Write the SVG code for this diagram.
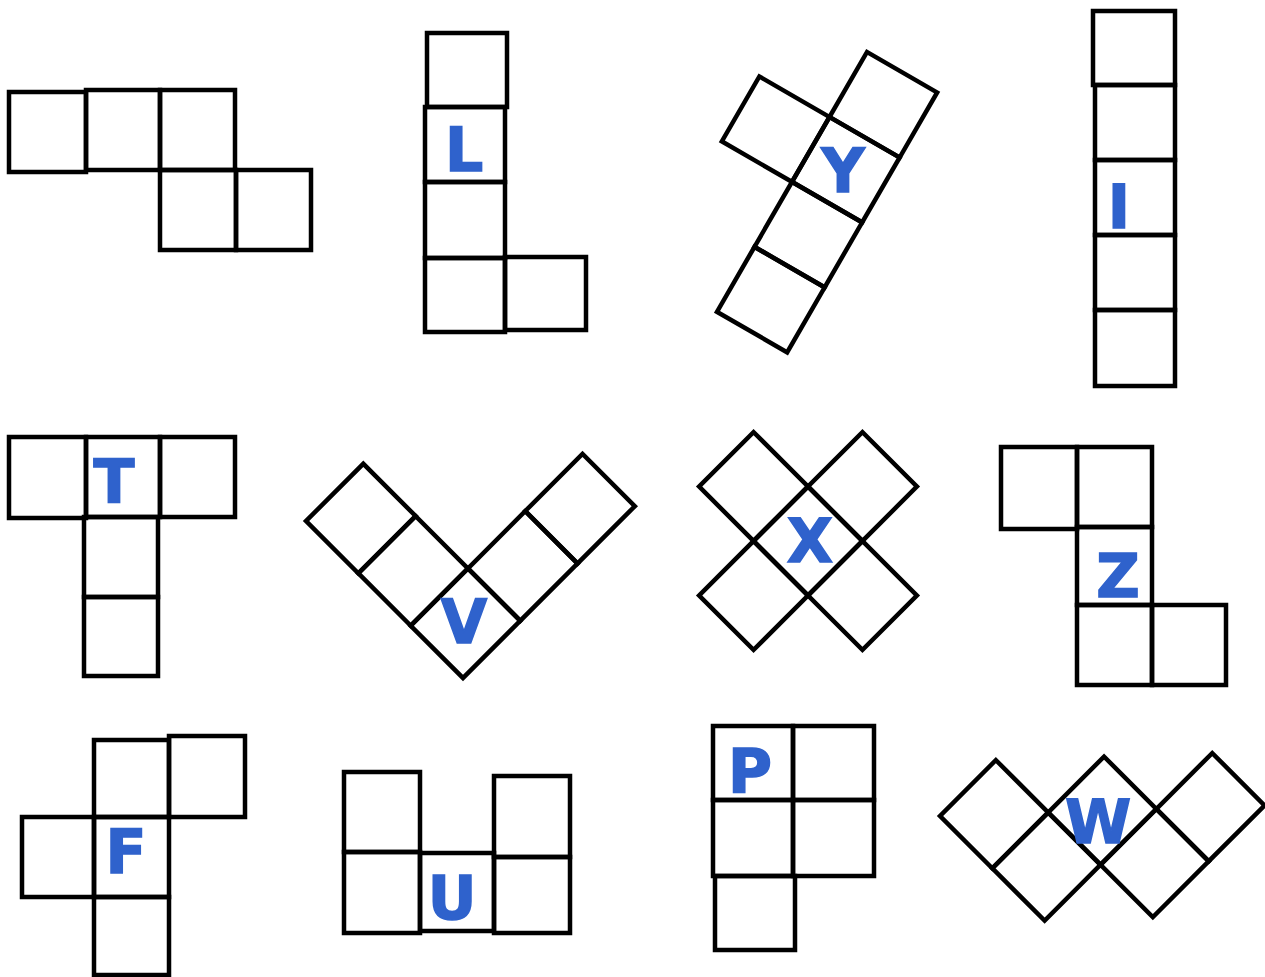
<svg xmlns="http://www.w3.org/2000/svg" width="1265" height="977" viewBox="0 0 1265 977">
<style>
.sq{fill:none;stroke:#000;stroke-width:4.5;stroke-linejoin:miter}
.lbl{font-family:"DejaVu Sans","Liberation Sans",sans-serif;font-weight:bold;font-size:60px;fill:#2f62cc;stroke:#2f62cc;stroke-width:1.5;text-anchor:middle}
</style>
<rect width="1265" height="977" fill="#fff"/>
<g id="piece-N">
<rect class="sq" x="9" y="92" width="77" height="80"/>
<rect class="sq" x="86" y="90" width="74" height="80"/>
<rect class="sq" x="160" y="90" width="75" height="80"/>
<rect class="sq" x="160" y="170" width="76" height="80"/>
<rect class="sq" x="236" y="170" width="75" height="80"/>
</g>
<g id="piece-L">
<rect class="sq" x="427" y="33" width="80" height="74"/>
<rect class="sq" x="425" y="107" width="80" height="75"/>
<rect class="sq" x="425" y="182" width="80" height="76"/>
<rect class="sq" x="425" y="258" width="80" height="74"/>
<rect class="sq" x="505" y="257" width="81" height="73"/>
<text class="lbl" x="464" y="171">L</text>
</g>
<g id="piece-Y">
<g transform="translate(867,52) rotate(30)">
<rect class="sq" x="0" y="0" width="81" height="75"/>
<rect class="sq" x="0" y="75" width="81" height="75"/>
<rect class="sq" x="0" y="150" width="81" height="75"/>
<rect class="sq" x="0" y="225" width="81" height="75"/>
<rect class="sq" x="-81" y="75" width="81" height="75"/>
</g>
<text class="lbl" x="843" y="192">Y</text>
</g>
<g id="piece-I">
<rect class="sq" x="1093" y="11" width="82" height="74"/>
<rect class="sq" x="1095" y="85" width="80" height="75"/>
<rect class="sq" x="1095" y="160" width="80" height="75"/>
<rect class="sq" x="1095" y="235" width="80" height="75"/>
<rect class="sq" x="1095" y="310" width="80" height="76"/>
<text class="lbl" x="1119" y="228">I</text>
</g>
<g id="piece-T">
<rect class="sq" x="9" y="437" width="77" height="81"/>
<rect class="sq" x="86" y="437" width="74" height="80"/>
<rect class="sq" x="160" y="437" width="75" height="80"/>
<rect class="sq" x="84" y="517" width="74" height="80"/>
<rect class="sq" x="84" y="597" width="74" height="79"/>
<text class="lbl" x="114" y="503">T</text>
</g>
<g id="piece-V">
<g transform="translate(463,678) rotate(-45)">
<rect class="sq" x="0" y="-74" width="81" height="74"/>
<rect class="sq" x="81" y="-74" width="81" height="74"/>
<rect class="sq" x="162" y="-74" width="81" height="74"/>
<rect class="sq" x="0" y="-148" width="81" height="74"/>
<rect class="sq" x="0" y="-222" width="81" height="74"/>
</g>
<text class="lbl" x="464" y="643">V</text>
</g>
<g id="piece-X">
<g transform="translate(808,541) rotate(-45)">
<rect class="sq" x="-38.5" y="-38.5" width="77" height="77"/>
<rect class="sq" x="-115.5" y="-38.5" width="77" height="77"/>
<rect class="sq" x="38.5" y="-38.5" width="77" height="77"/>
<rect class="sq" x="-38.5" y="-115.5" width="77" height="77"/>
<rect class="sq" x="-38.5" y="38.5" width="77" height="77"/>
</g>
<text class="lbl" x="810" y="562">X</text>
</g>
<g id="piece-Z">
<rect class="sq" x="1001" y="447" width="76" height="82"/>
<rect class="sq" x="1077" y="447" width="75" height="80"/>
<rect class="sq" x="1077" y="527" width="75" height="78"/>
<rect class="sq" x="1077" y="605" width="75" height="80"/>
<rect class="sq" x="1152" y="605" width="74" height="80"/>
<text class="lbl" x="1118" y="597">Z</text>
</g>
<g id="piece-F">
<rect class="sq" x="94" y="740" width="75" height="77"/>
<rect class="sq" x="169" y="736" width="76" height="81"/>
<rect class="sq" x="22" y="817" width="72" height="80"/>
<rect class="sq" x="94" y="817" width="75" height="80"/>
<rect class="sq" x="94" y="897" width="75" height="78"/>
<text class="lbl" x="126" y="873">F</text>
</g>
<g id="piece-U">
<rect class="sq" x="344" y="772" width="76" height="80"/>
<rect class="sq" x="344" y="852" width="76" height="81"/>
<rect class="sq" x="420" y="853" width="74" height="78"/>
<rect class="sq" x="494" y="776" width="76" height="81"/>
<rect class="sq" x="494" y="857" width="76" height="76"/>
<text class="lbl" x="452" y="919">U</text>
</g>
<g id="piece-P">
<rect class="sq" x="713" y="726" width="80" height="74"/>
<rect class="sq" x="793" y="726" width="81" height="74"/>
<rect class="sq" x="713" y="800" width="80" height="76"/>
<rect class="sq" x="793" y="800" width="81" height="76"/>
<rect class="sq" x="715" y="876" width="80" height="74"/>
<text class="lbl" x="750" y="792">P</text>
</g>
<g id="piece-W">
<g transform="translate(940,816) rotate(-45)">
<rect class="sq" x="0" y="0" width="79" height="74"/>
<rect class="sq" x="0" y="74" width="79" height="74"/>
<rect class="sq" x="79" y="74" width="79" height="74"/>
<rect class="sq" x="79" y="148" width="79" height="74"/>
<rect class="sq" x="158" y="148" width="79" height="74"/>
</g>
<text class="lbl" x="1098" y="843">W</text>
</g>
</svg>
